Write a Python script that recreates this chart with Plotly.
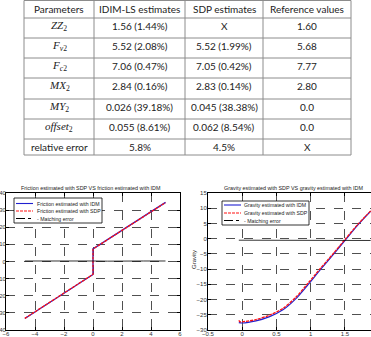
import plotly.graph_objects as go

W, H = 371, 337

# ---------------- table data ----------------
headers = ["Parameters", "IDIM-LS estimates", "SDP estimates", "Reference values"]
params = ["<i>ZZ</i><sub>2</sub>", "<i>F</i><sub><i>v</i>2</sub>", "<i>F</i><sub><i>c</i>2</sub>",
          "<i>MX</i><sub>2</sub>", "<i>MY</i><sub>2</sub>", "<i>offset</i><sub>2</sub>",
          "relative error"]
idim = ["1.56 (1.44%)", "5.52 (2.08%)", "7.06 (0.47%)", "2.84 (0.16%)", "0.026 (39.18%)", "0.055 (8.61%)", "5.8%"]
sdp = ["X", "5.52 (1.99%)", "7.05 (0.42%)", "2.83 (0.14%)", "0.045 (38.38%)", "0.062 (8.54%)", "4.5%"]
ref = ["1.60", "5.68", "7.77", "2.80", "0.0", "0.0", "X"]

# ---------------- friction plot data ----------------
fric_q = [-4.7, 0.0, 0.0, 5.0]
fric_idm = [-33.3, -7.6, 7.4, 34.5]
fric_sdp = [-33.2, -7.5, 7.3, 34.4]
err_q = [-4.7, -3.5, -2.0, -1.0, 0.0, 1.0, 2.0, 3.5, 5.0]
fric_err = [0.3, 0.4, 0.2, 0.4, 0.3, 0.2, 0.4, 0.3, 0.3]

# ---------------- gravity plot data ----------------
grav_q = [-0.05, 0.0, 0.2, 0.4, 0.6, 0.78, 0.95, 1.14, 1.34, 1.51, 1.68, 1.875]
grav_idm = [-27.6, -27.7, -27.0, -25.6, -23.3, -19.8, -15.4, -10.2, -4.9, -0.3, 4.3, 9.0]
grav_sdp_q = [-0.05, -0.03, 0.0, 0.2, 0.4, 0.6, 0.78, 0.95, 1.14, 1.34, 1.51, 1.68, 1.875]
grav_sdp = [-26.8, -27.3, -27.3, -26.6, -25.1, -22.8, -19.3, -14.9, -9.8, -4.6, 0.0, 4.5, 9.1]
grav_err = [-0.5, -0.5, -0.6, -0.5, -0.6, -0.7, -0.5, -0.6, -0.5, -0.6, -0.5, -0.6]

# ---------------- table geometry (pixels) ----------------
col_edges = [24, 94, 185, 263, 351]
row_edges = [0.5, 18, 38, 58, 78, 99, 119, 139, 155]
text_y = [9.3, 26.0, 46.0, 66.0, 86.0, 107.0, 127.0, 146.7]


def px(x):
    return x / W


def py(y):
    return 1 - y / H


fig = go.Figure()

shapes = []
annotations = []

# table grid
tline = dict(color="#8c8c8c", width=1)
for xe in col_edges:
    shapes.append(dict(type="line", xref="paper", yref="paper", x0=px(xe), x1=px(xe),
                       y0=py(row_edges[0]), y1=py(row_edges[-1]), line=tline))
for ye in row_edges:
    shapes.append(dict(type="line", xref="paper", yref="paper", x0=px(col_edges[0]),
                       x1=px(col_edges[-1]), y0=py(ye), y1=py(ye), line=tline))

sans_tbl = dict(family="Lato", size=10, color="#222")
serif_tbl = dict(family="Liberation Serif", size=11, color="#222")
columns = [params, idim, sdp, ref]
for ci, head in enumerate(headers):
    cx = (col_edges[ci] + col_edges[ci + 1]) / 2
    annotations.append(dict(text=head, x=px(cx), y=py(text_y[0]), xref="paper", yref="paper",
                            showarrow=False, xanchor="center", yanchor="middle", font=sans_tbl))
    for ri, val in enumerate(columns[ci]):
        f = serif_tbl if (ci == 0 and ri < len(params) - 1) else sans_tbl
        annotations.append(dict(text=val, x=px(cx), y=py(text_y[ri + 1]), xref="paper", yref="paper",
                                showarrow=False, xanchor="center", yanchor="middle", font=f))

# friction plot
fig.add_trace(go.Scatter(x=fric_q, y=fric_idm, mode="lines", xaxis="x", yaxis="y",
                         line=dict(color="#2020d0", width=1.3), showlegend=False))
fig.add_trace(go.Scatter(x=fric_q, y=fric_sdp, mode="lines", xaxis="x", yaxis="y",
                         line=dict(color="#ff1010", width=1.3, dash="3px,1px"), showlegend=False))
fig.add_trace(go.Scatter(x=err_q, y=fric_err, mode="lines", xaxis="x", yaxis="y",
                         line=dict(color="black", width=0.8), showlegend=False))

# gravity plot
fig.add_trace(go.Scatter(x=grav_q, y=grav_idm, mode="lines", xaxis="x2", yaxis="y2",
                         line=dict(color="#2020d0", width=1.2, shape="spline", smoothing=0.8),
                         showlegend=False))
fig.add_trace(go.Scatter(x=grav_sdp_q, y=grav_sdp, mode="lines", xaxis="x2", yaxis="y2",
                         line=dict(color="#ff1010", width=1.3, dash="3px,1px", shape="spline",
                                   smoothing=0.8),
                         showlegend=False))
fig.add_trace(go.Scatter(x=grav_q, y=grav_err, mode="lines", xaxis="x2", yaxis="y2",
                         line=dict(color="black", width=0.8), showlegend=False))

axis_common = dict(showline=True, linecolor="black", linewidth=1, ticks="inside", ticklen=3,
                   tickcolor="black", showgrid=True, gridcolor="#505050", griddash="dash",
                   gridwidth=0.7, zeroline=False, automargin=False,
                   tickfont=dict(family="Liberation Sans", size=6, color="#333"))

ydom = [py(330), py(193)]
fig.update_layout(
    width=W, height=H, margin=dict(l=0, r=0, t=0, b=0, autoexpand=False),
    paper_bgcolor="white", plot_bgcolor="white", showlegend=False,
    xaxis=dict(domain=[px(6), px(180)], range=[-6, 6], dtick=2, mirror="ticks",
               anchor="y", ticklabelstandoff=-2, **axis_common),
    yaxis=dict(domain=ydom, range=[-40, 40], dtick=10, mirror="ticks", anchor="x",
               ticklabelstandoff=-2, **axis_common),
    xaxis2=dict(domain=[px(208), 1.0], range=[-0.5, 1.88], dtick=0.5, mirror="ticks",
                anchor="y2", ticklabelstandoff=-2, **axis_common),
    yaxis2=dict(domain=ydom, range=[-30, 15], dtick=5, mirror=False, anchor="x2",
                ticklabelstandoff=-1, **axis_common),
)

ann_font = dict(family="Liberation Sans", size=5.4, color="#222")
annotations += [
    dict(text="Friction estimated with SDP VS friction estimated with IDM", x=px(91), y=py(188),
         xref="paper", yref="paper", showarrow=False, font=ann_font, xanchor="center", yanchor="middle"),
    dict(text="Gravity estimated with SDP VS gravity estimated with IDM", x=px(293), y=py(188),
         xref="paper", yref="paper", showarrow=False, font=ann_font, xanchor="center", yanchor="middle"),
    dict(text="Gravity", x=px(194), y=py(260), xref="paper", yref="paper", showarrow=False,
         textangle=-90, font=dict(family="Liberation Sans", size=6, color="#222"),
         xanchor="center", yanchor="middle"),
]


def legend(x0, x1, y0, y1, rows, lx0, lx1, tx, labels):
    shapes.append(dict(type="rect", xref="paper", yref="paper", x0=px(x0), x1=px(x1),
                       y0=py(y1), y1=py(y0), line=dict(color="black", width=0.8),
                       fillcolor="white", layer="above"))
    styles = [dict(color="#2020d0", width=1.1), dict(color="#ff1010", width=1.2, dash="3px,1px"),
              dict(color="black", width=1.0, dash="dashdot")]
    for ry, st, lab in zip(rows, styles, labels):
        shapes.append(dict(type="line", xref="paper", yref="paper", x0=px(lx0), x1=px(lx1),
                           y0=py(ry), y1=py(ry), line=st, layer="above"))
        annotations.append(dict(text=lab, x=px(tx), y=py(ry), xref="paper", yref="paper",
                                showarrow=False, xanchor="left", yanchor="middle",
                                font=dict(family="Liberation Sans", size=5.2, color="#222")))


legend(14, 102, 198, 223, [203.5, 211, 218.5], 16, 33, 35,
       ["Friction estimated with IDM", "Friction estimated with SDP", "- Matching error"])
legend(222, 309, 201, 225, [205, 213, 220.5], 224, 241, 242,
       ["Gravity estimated with IDM", "Gravity estimated with SDP", "- Matching error"])

fig.update_layout(annotations=annotations, shapes=shapes)

fig.write_html("out.html")
